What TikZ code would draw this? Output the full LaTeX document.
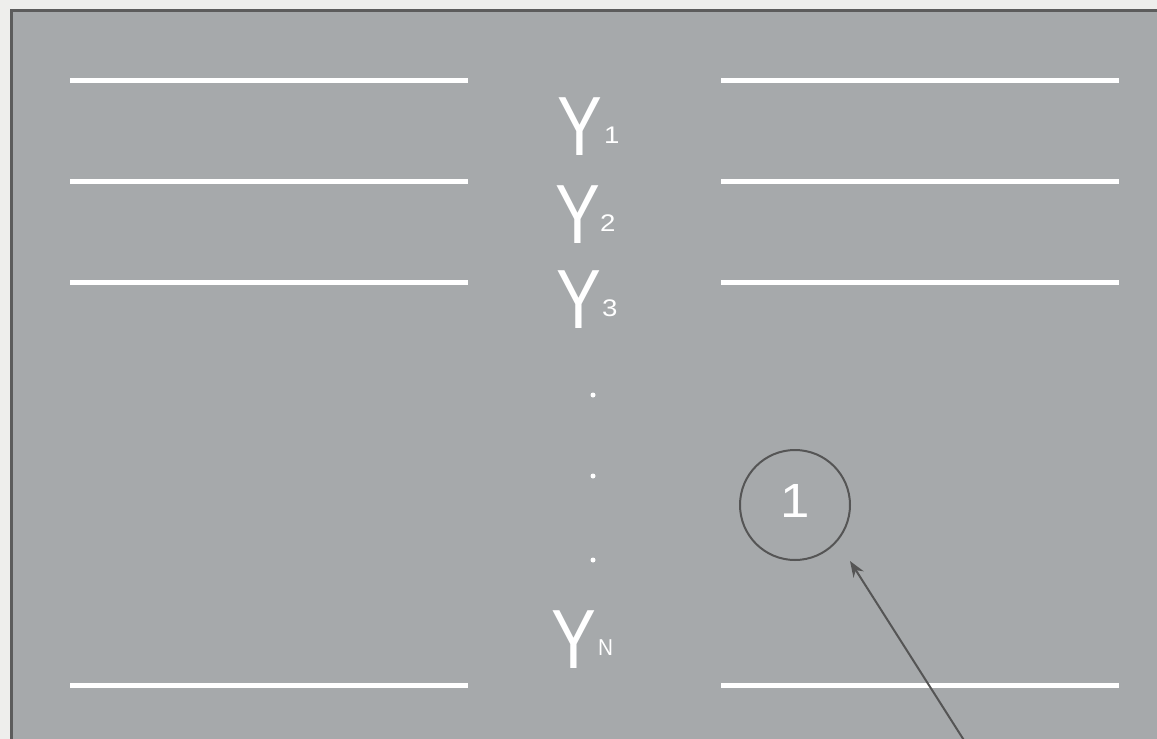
\documentclass[tikz,border=0pt]{standalone}
\usepackage{fontspec}
\setmainfont{Liberation Sans}
\usetikzlibrary{arrows.meta}
\definecolor{paper}{RGB}{238,238,236}
\definecolor{slate}{RGB}{166,169,171}
\definecolor{frame}{RGB}{92,92,92}
\definecolor{ink}{RGB}{85,85,85}
\tikzset{
  rule/.style={draw=white, line width=5pt},
  ylabel/.style={text=white, inner sep=0pt, anchor=base west, font=\fontsize{84}{84}\selectfont},
  dotmark/.style={circle, fill=white, inner sep=0pt, minimum size=5pt},
}
\newcommand{\Ysub}[2]{\scalebox{0.8}[1]{Y}\kern#2pt\raisebox{12pt}{\fontsize{24}{24}\selectfont\scalebox{1.15}[1]{#1}}}
\begin{document}
\begin{tikzpicture}[x=1pt,y=-1pt]
\useasboundingbox (0,0) rectangle (1157,739);
\fill[paper] (0,0) rectangle (1157,739);
\fill[frame] (10,9) rectangle (1160,742);
\fill[slate] (13,12) rectangle (1160,742);
% horizontal rules
\foreach \yy/\nm in {80/a,181/b,282/c,685/d}{
  \coordinate (l\nm1) at (70,\yy); \coordinate (l\nm2) at (468,\yy);
  \coordinate (r\nm1) at (721,\yy); \coordinate (r\nm2) at (1119,\yy);
  \draw[rule] (l\nm1) -- (l\nm2);
  \draw[rule] (r\nm1) -- (r\nm2);
}
% labels
\node[ylabel] (y1) at (557,155) {\Ysub{1}{2}};
\node[ylabel] (y2) at (555,243) {\Ysub{2}{0}};
\node[ylabel] (y3) at (556,328) {\Ysub{3}{1}};
\node[ylabel] (yn) at (551,668) {\scalebox{0.8}[1]{Y}\kern2pt\raisebox{13pt}{\fontsize{23}{23}\selectfont\scalebox{0.9}[1]{N}}};
\node[dotmark] (d1) at (593,395) {};
\node[dotmark] (d2) at (593,476) {};
\node[dotmark] (d3) at (593,560) {};
% circled number
\node[circle, draw=ink, line width=2pt, minimum size=110pt, inner sep=0pt,
      text=white, font=\fontsize{48}{48}\selectfont] (c1) at (795,505) {\raisebox{8pt}{\scalebox{1.1}[1]{1}}};
\coordinate (tail) at (967,745);
\coordinate (tip) at (850,561);
\draw[ink, line width=2pt, -{Stealth[length=16pt,width=12pt]}] (tail) -- (tip);
\end{tikzpicture}
\end{document}
